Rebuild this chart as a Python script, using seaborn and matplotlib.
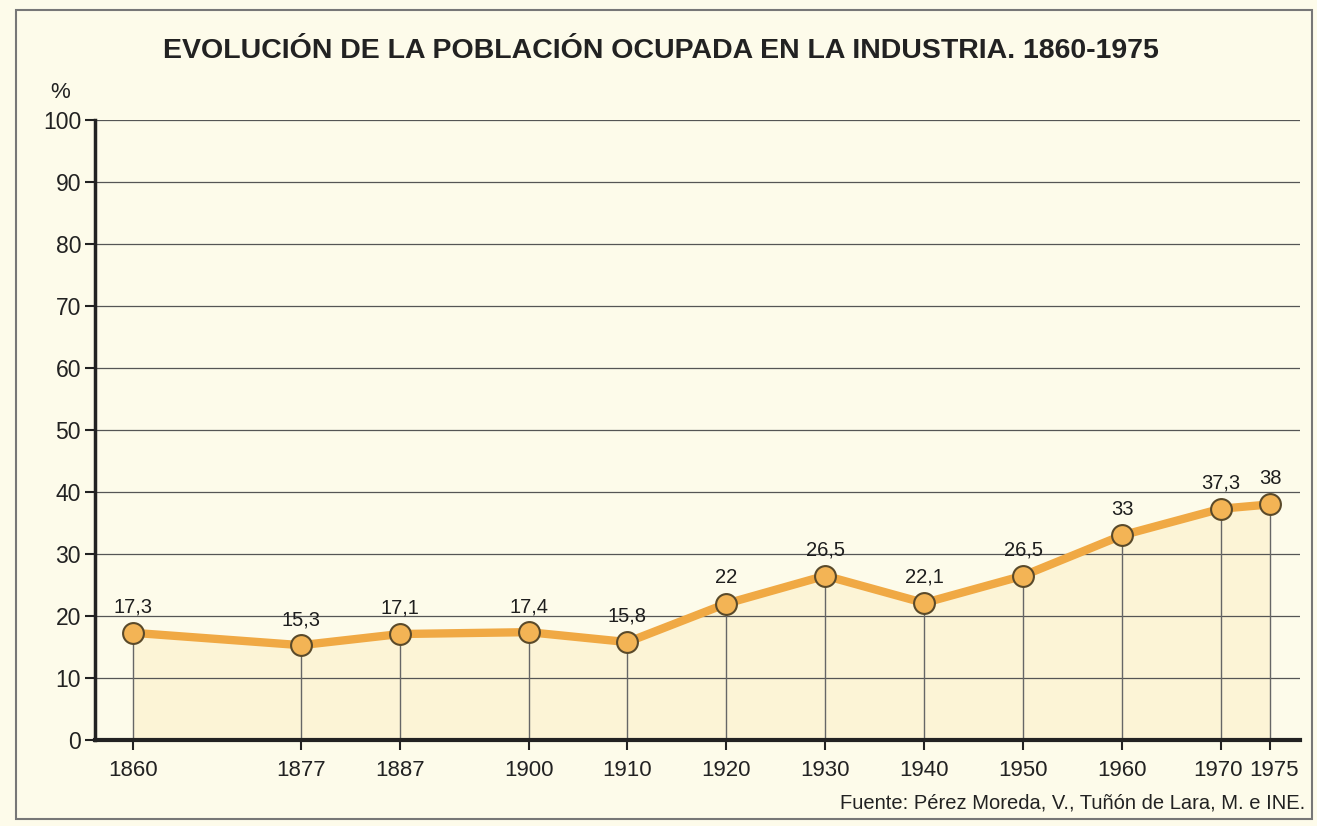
import matplotlib
matplotlib.use("Agg")
import matplotlib.pyplot as plt
import matplotlib.transforms as mtransforms
import seaborn as sns
import pandas as pd

# data
years = [1860, 1877, 1887, 1900, 1910, 1920, 1930, 1940, 1950, 1960, 1970, 1975]
values = [17.3, 15.3, 17.1, 17.4, 15.8, 22, 26.5, 22.1, 26.5, 33, 37.3, 38]
value_labels = ["17,3", "15,3", "17,1", "17,4", "15,8", "22", "26,5", "22,1", "26,5", "33", "37,3", "38"]
y_ticks = list(range(0, 101, 10))

df = pd.DataFrame({"year": years, "pct": values})

sns.set_style("white")
plt.rcParams["font.family"] = ["Liberation Sans", "DejaVu Sans"]

bg = "#fdfbea"
fig = plt.figure(figsize=(13.17, 8.26), dpi=100, facecolor=bg)
ax = fig.add_axes([0.0721, 0.104, 0.915, 0.751])
ax.set_facecolor(bg)

# grid lines
for v in y_ticks[1:]:
    ax.axhline(v, color="#555555", lw=0.9, zorder=1)

# light fill under the line
ax.fill_between(years, values, 0, color="#fcf4d6", zorder=0.5, lw=0)

# drop lines
ax.vlines(years, 0, values, color="#666666", lw=1.0, zorder=2)

sns.lineplot(data=df, x="year", y="pct", ax=ax, color="#f0a944", lw=6,
             marker="o", markersize=15, markerfacecolor="#f3b455",
             markeredgecolor="#5a4a2a", markeredgewidth=1.5, zorder=3)

for x, y, lab in zip(years, values, value_labels):
    ax.text(x, y + 2.6, lab, ha="center", va="bottom", fontsize=14.5, color="#1e1e1e", zorder=4)

ax.set_xlim(1856.16, 1978.0)
ax.set_ylim(0, 100)
ax.set_xticks(years)
ax.set_xticklabels([str(y) for y in years], fontsize=16, color="#222222")
ax.set_yticks(y_ticks)
ax.set_yticklabels([str(v) for v in y_ticks], fontsize=16.5, color="#222222")
ax.tick_params(axis="both", direction="out", length=7, width=1.5, color="#222222",
               bottom=True, left=True, pad=3)
ax.tick_params(axis="x", pad=7)
ax.set_xlabel("")
ax.set_ylabel("")

# nudge the two crowded labels apart
xlabs = ax.get_xticklabels()
for lab, dx in [(xlabs[-2], -3), (xlabs[-1], 4)]:
    lab.set_transform(lab.get_transform() + mtransforms.ScaledTranslation(dx / 100, 0, fig.dpi_scale_trans))

for side in ["top", "right"]:
    ax.spines[side].set_visible(False)
ax.spines["left"].set_linewidth(2.5)
ax.spines["left"].set_color("#222222")
ax.spines["bottom"].set_linewidth(3)
ax.spines["bottom"].set_color("#222222")

fig.text(0.502, 0.938, "EVOLUCIÓN DE LA POBLACIÓN OCUPADA EN LA INDUSTRIA. 1860-1975",
         ha="center", va="center", fontsize=20.5, fontweight="bold", color="#222222")
fig.text(0.046, 0.888, "%", ha="center", va="center", fontsize=16, color="#222222")
fig.text(0.991, 0.028, "Fuente: Pérez Moreda, V., Tuñón de Lara, M. e INE.",
         ha="right", va="center", fontsize=14.5, color="#222222")

# outer frame
fig.patches.append(plt.Rectangle((0.012, 0.008), 0.984, 0.98, transform=fig.transFigure,
                                 fill=False, edgecolor="#777777", lw=1.5))

fig.savefig("out.png", dpi=100, facecolor=bg)
